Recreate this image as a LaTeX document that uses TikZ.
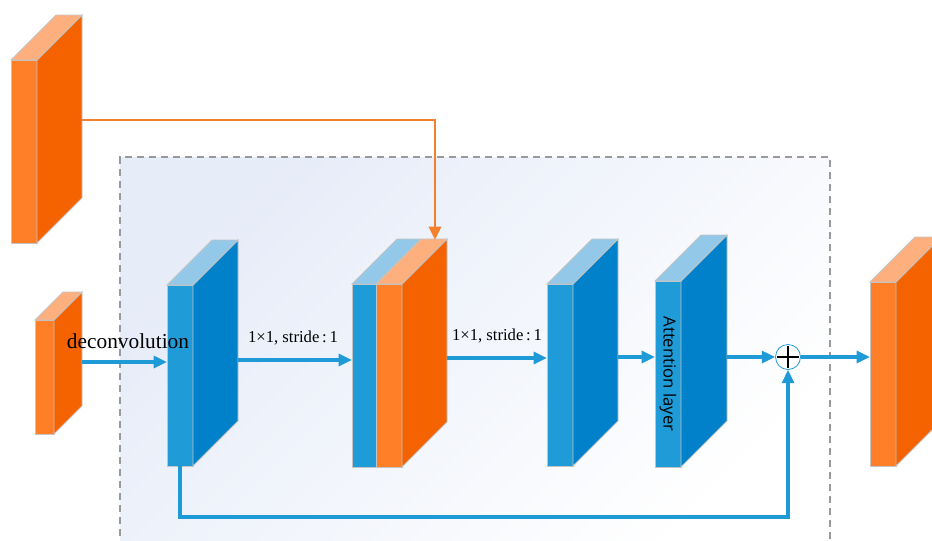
\documentclass[tikz,border=0pt]{standalone}
\usepackage{fontspec}
\setmainfont{Liberation Serif}
\newfontfamily\attfont{Open Sans}
\usetikzlibrary{arrows.meta,calc}
\definecolor{ofront}{HTML}{FE7F27}
\definecolor{oside}{HTML}{F46300}
\definecolor{otop}{HTML}{FDAF7E}
\definecolor{bfront}{HTML}{1F9BD7}
\definecolor{bside}{HTML}{0081C9}
\definecolor{btop}{HTML}{93C8E8}
\definecolor{edgegray}{HTML}{C4C4C4}
\definecolor{arrblue}{HTML}{1E9AD6}
\definecolor{arrorange}{HTML}{F47F2C}
\definecolor{bgtop}{HTML}{E6ECF8}
\definecolor{dashgray}{HTML}{9A9A9A}
\tikzset{
  face/.style={draw=edgegray, line width=0.6pt, inner sep=0pt, outer sep=0pt},
  barr/.style={draw=arrblue, line width=2.3pt, -{Triangle[length=10pt,width=9pt]}},
  oarr/.style={draw=arrorange, line width=2.2pt, -{Triangle[length=10pt,width=9pt]}},
  lbl/.style={inner sep=0pt, font=\fontsize{12.5}{14}\selectfont},
}
\newcommand\featblock[9]{%
  \node[face, fill=#7, anchor=north west, minimum width=#4*0.75pt, minimum height=#5*0.75pt] (#1) at (#2,#3) {};
  \draw[face, fill=#8] (#1.north east) -- ++(#6,-#6) -- ++(0,#5) -- ++(-#6,#6) -- cycle;
  \draw[face, fill=#9] (#1.north west) -- ++(#6,-#6) -- ++(#4,0) -- ++(-#6,#6) -- cycle;
  \coordinate (#1-bk) at ($(#1.east)+(#6,-#6)$);
}
\begin{document}
\begin{tikzpicture}[x=0.75pt,y=-0.75pt]
\clip (0,0) rectangle (932,540);
% background dashed region
\shade[top color=bgtop, middle color=bgtop!35!white, bottom color=white, shading angle=45] (120,157) rectangle (830,548);
\draw[draw=dashgray, line width=1.1pt, dash pattern=on 5.5pt off 3.5pt] (120,548) -- (120,157) -- (830,157) -- (830,548);
% blocks
\featblock{b1}{11}{60}{26}{183}{45}{ofront}{oside}{otop}
\featblock{b2}{35}{320}{19}{114}{28}{ofront}{oside}{otop}
\featblock{b3}{167}{285}{26}{181}{45}{bfront}{bside}{btop}
% concatenated block
\node[face, fill=bfront, anchor=north west, minimum width=24*0.75pt, minimum height=183*0.75pt] (b4a) at (352,284) {};
\node[face, fill=ofront, anchor=north west, minimum width=26*0.75pt, minimum height=183*0.75pt] (b4) at (376,284) {};
\draw[face, fill=oside] (b4.north east) -- ++(45,-45) -- ++(0,183) -- ++(-45,45) -- cycle;
\draw[face, fill=btop] (b4a.north west) -- ++(45,-45) -- ++(24,0) -- ++(-45,45) -- cycle;
\draw[face, fill=otop] (b4.north west) -- ++(45,-45) -- ++(26,0) -- ++(-45,45) -- cycle;
\coordinate (b4-bk) at ($(b4.east)+(45,-45)$);
\coordinate (b4-in) at (435,240);
\featblock{b5}{547}{284}{26}{182}{45}{bfront}{bside}{btop}
\featblock{b6}{655}{281}{26}{186}{46}{bfront}{bside}{btop}
\featblock{b7}{870}{282}{26}{184}{45}{ofront}{oside}{otop}
% sum node
\node[circle, draw=arrblue, line width=0.6pt, fill=white, minimum size=25*0.75pt, inner sep=0pt] (sum) at (788,357) {};
\draw[line width=1.5pt] ($(sum.center)+(0,-11)$) -- ($(sum.center)+(0,11)$);
\draw[line width=1.5pt] ($(sum.center)+(-11,0)$) -- ($(sum.center)+(11,0)$);
% row coordinates
\coordinate (r0) at (0,120);
\coordinate (r1) at (0,362);
\coordinate (r2) at (0,360);
\coordinate (r3) at (0,358);
\coordinate (r4) at (0,357);
% connectors
\draw[oarr] (b1-bk |- r0) -| (b4-in);
\draw[barr] (b2-bk |- r1) -- (b3.west |- r1);
\draw[barr] (b3-bk |- r2) -- (b4a.west |- r2);
\draw[barr] (b4-bk |- r3) -- (b5.west |- r3);
\draw[barr] (b5-bk |- r4) -- (b6.west |- r4);
\draw[barr] (b6-bk |- sum) -- (sum.west);
\draw[barr] (sum.east) -- (b7.west |- sum);
\draw[barr] (b3.south) -- ++(0,51) -| (sum.south);
% labels
\node[inner sep=0pt, font=\fontsize{16}{18}\selectfont] (t1) at (128,341) {deconvolution};
\node[lbl] (t2) at (293,338) {1×1, stride\,:\,1};
\node[lbl] (t3) at (497,336) {1×1, stride\,:\,1};
\node[inner sep=0pt, rotate=-90, font=\attfont\fontsize{12.5}{14}\selectfont] (t4) at (668,374) {Attention layer};
\end{tikzpicture}
\end{document}
